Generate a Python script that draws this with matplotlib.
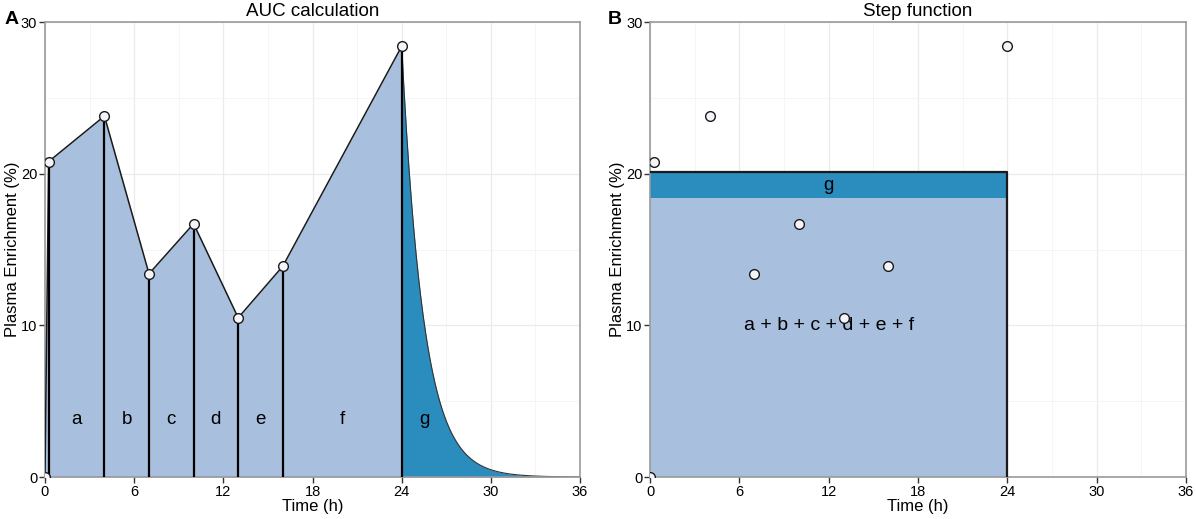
import numpy as np
import matplotlib
matplotlib.use("Agg")
import matplotlib.pyplot as plt
from matplotlib.ticker import MultipleLocator

plt.rcParams['font.family'] = ['Liberation Sans', 'DejaVu Sans']

# sampled plasma enrichment
times = [0, 0.25, 4, 7, 10, 13, 16, 24]
enrich = [0, 20.8, 23.8, 13.4, 16.7, 10.5, 13.9, 28.4]

# trapezoid labels
seg_labels = ['a', 'b', 'c', 'd', 'e', 'f', 'g']
seg_label_x = [2.1, 5.5, 8.5, 11.5, 14.5, 20.0, 25.5]
seg_label_y = 3.8

# extrapolated tail after last sample
decay_rate = 0.68

# step function levels (panel B)
step_end = 24
step_auc_level = 18.4
step_total_level = 20.1

light = '#A8BFDD'
dark = '#2B8CBE'


def style_axes(ax, title):
    ax.set_xlim(0, 36)
    ax.set_ylim(0, 30)
    ax.xaxis.set_major_locator(MultipleLocator(6))
    ax.xaxis.set_minor_locator(MultipleLocator(3))
    ax.yaxis.set_major_locator(MultipleLocator(10))
    ax.yaxis.set_minor_locator(MultipleLocator(5))
    ax.grid(which='major', color='#EBEBEB', lw=0.9)
    ax.grid(which='minor', color='#F4F4F4', lw=0.6)
    ax.set_axisbelow(True)
    ax.tick_params(which='minor', length=0)
    ax.tick_params(which='major', length=4, width=1, color='#333333',
                   labelsize=10.5, pad=1.5)
    for s in ax.spines.values():
        s.set_color('#9A9A9A')
        s.set_linewidth(1.2)
    ax.set_title(title, fontsize=13.5, pad=4)
    ax.set_xlabel('Time (h)', fontsize=12, labelpad=0)
    ax.set_ylabel('Plasma Enrichment (%)', fontsize=12, labelpad=1)


fig = plt.figure(figsize=(11.96, 5.19), dpi=100)
axA = fig.add_axes([0.0376, 0.0809, 0.4474, 0.8767])
axB = fig.add_axes([0.5435, 0.0809, 0.4482, 0.8767])

# ---- panel A
style_axes(axA, 'AUC calculation')
axA.fill_between(times, enrich, 0, color=light, lw=0, zorder=1)
tail_t = np.linspace(times[-1], 36, 300)
tail_y = enrich[-1] * np.exp(-decay_rate * (tail_t - times[-1]))
axA.fill_between(tail_t, tail_y, 0, color=dark, lw=0, zorder=1)
axA.plot(tail_t, tail_y, color='#333333', lw=0.8, zorder=2)
axA.plot(times, enrich, color='#1A1A1A', lw=1.1, zorder=3)
axA.vlines(times[1:], 0, enrich[1:], color='black', lw=1.6, zorder=3)
for lab, lx in zip(seg_labels, seg_label_x):
    axA.text(lx, seg_label_y, lab, ha='center', va='center', fontsize=13.5,
             zorder=4)
axA.plot(times, enrich, 'o', ms=7, mfc='#F4F4FA', mec='#1A1A1A', mew=1,
         zorder=5)

# ---- panel B
style_axes(axB, 'Step function')
axB.fill_between([0, step_end], 0, step_auc_level, color=light, lw=0, zorder=1)
axB.fill_between([0, step_end], step_auc_level, step_total_level, color=dark,
                 lw=0, zorder=1)
axB.plot([0, step_end, step_end], [step_total_level, step_total_level, 0],
         color='#1A1A1A', lw=1.6, zorder=3)
axB.text(step_end / 2, (step_auc_level + step_total_level) / 2, 'g',
         ha='center', va='center', fontsize=13.5, zorder=4)
axB.text(step_end / 2, 10, 'a + b + c + d + e + f', ha='center', va='center',
         fontsize=14, zorder=4)
axB.plot(times, enrich, 'o', ms=7, mfc='#F4F4FA', mec='#1A1A1A', mew=1,
         zorder=5)

fig.text(0.004, 0.978, 'A', fontsize=14, fontweight='bold', va='top')
fig.text(0.508, 0.978, 'B', fontsize=14, fontweight='bold', va='top')

fig.savefig('out.png', dpi=100)
